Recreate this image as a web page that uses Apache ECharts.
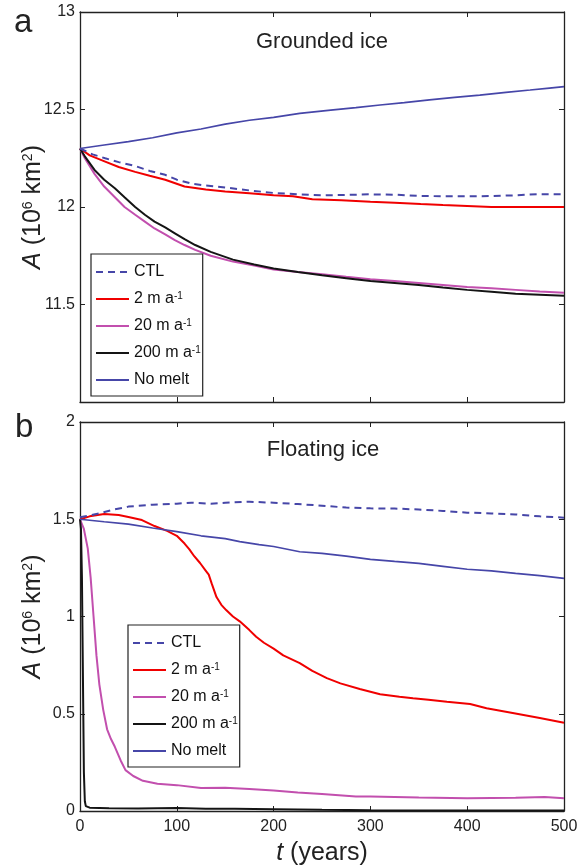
<!doctype html>
<html>
<head>
<meta charset="UTF-8">
<title>Grounded / floating ice area</title>
<script src="https://cdn.jsdelivr.net/npm/echarts@6/dist/echarts.min.js"></script>
<style>
  html, body { margin: 0; padding: 0; background: #fff; }
  #chart { width: 587px; height: 868px; }
</style>
</head>
<body>
<div id="chart"></div>
<script>
// --- data: [years, area (10^6 km^2)] ---
const seriesNames = ['CTL', '2 m a-1', '20 m a-1', '200 m a-1', 'No melt'];

// panel a: grounded ice
const ctlGrounded = [[0,12.3],[13,12.27],[26,12.25],[40,12.23],[57,12.21],[72,12.185],[88,12.165],[100,12.14],[115,12.12],[130,12.11],[150,12.1],[175,12.085],[200,12.072],[225,12.065],[250,12.06],[275,12.062],[300,12.065],[325,12.063],[350,12.057],[375,12.055],[400,12.055],[425,12.056],[450,12.06],[475,12.066],[500,12.065]];
const melt2Grounded = [[0,12.3],[10,12.265],[26,12.233],[40,12.205],[57,12.18],[72,12.16],[88,12.14],[108,12.105],[130,12.09],[150,12.08],[175,12.07],[200,12.06],[220,12.055],[240,12.04],[270,12.035],[300,12.027],[325,12.022],[352,12.015],[375,12.01],[400,12.005],[425,12.0],[448,12.0],[475,12.0],[500,12.0]];
const melt20Grounded = [[0,12.3],[5,12.25],[15,12.17],[25,12.105],[36,12.05],[46,12.0],[57,11.96],[67,11.925],[77,11.89],[88,11.86],[98,11.83],[108,11.805],[119,11.78],[135,11.75],[158,11.72],[180,11.7],[200,11.68],[225,11.667],[250,11.655],[275,11.642],[300,11.63],[325,11.62],[350,11.61],[375,11.6],[400,11.59],[425,11.583],[450,11.575],[475,11.567],[500,11.56]];
const melt200Grounded = [[0,12.3],[5,12.26],[15,12.19],[25,12.14],[36,12.096],[46,12.05],[57,12.0],[67,11.96],[77,11.925],[88,11.895],[98,11.865],[108,11.835],[119,11.805],[135,11.77],[158,11.73],[180,11.705],[200,11.685],[225,11.667],[250,11.65],[275,11.635],[300,11.62],[325,11.61],[350,11.6],[375,11.587],[400,11.575],[425,11.565],[450,11.555],[475,11.55],[500,11.545]];
const noMeltGrounded = [[0,12.3],[25,12.318],[50,12.335],[75,12.355],[100,12.38],[125,12.4],[150,12.425],[175,12.445],[200,12.46],[227,12.48],[259,12.497],[285,12.51],[310,12.523],[335,12.535],[361,12.549],[387,12.562],[413,12.574],[440,12.588],[465,12.6],[485,12.61],[500,12.617]];

// panel b: floating ice
const ctlFloating = [[0,1.51],[10,1.52],[20,1.53],[35,1.55],[50,1.565],[75,1.575],[100,1.58],[115,1.585],[135,1.58],[150,1.585],[175,1.59],[200,1.585],[225,1.578],[250,1.57],[275,1.56],[300,1.556],[325,1.555],[350,1.55],[375,1.543],[400,1.534],[425,1.53],[450,1.525],[475,1.515],[500,1.508]];
const melt2Floating = [[0,1.5],[10,1.515],[25,1.527],[40,1.522],[50,1.512],[64,1.496],[77,1.465],[90,1.44],[100,1.415],[108,1.375],[113,1.345],[118,1.31],[124,1.275],[130,1.235],[133,1.215],[136,1.17],[141,1.1],[146,1.06],[151,1.033],[158,1.0],[165,0.975],[175,0.93],[182,0.896],[190,0.865],[200,0.835],[210,0.8],[227,0.76],[240,0.72],[255,0.683],[269,0.656],[289,0.627],[310,0.6],[330,0.588],[344,0.58],[360,0.572],[379,0.562],[403,0.55],[420,0.528],[447,0.504],[475,0.478],[500,0.454]];
const melt20Floating = [[0,1.5],[4,1.45],[8,1.35],[11,1.2],[14,1.0],[17,0.8],[20,0.65],[24,0.52],[28,0.42],[32,0.37],[36,0.33],[42,0.26],[47,0.21],[55,0.18],[65,0.155],[80,0.14],[100,0.133],[125,0.118],[150,0.12],[175,0.113],[200,0.105],[225,0.095],[250,0.088],[285,0.074],[300,0.075],[350,0.07],[400,0.066],[450,0.068],[480,0.072],[500,0.066]];
const melt200Floating = [[0,1.5],[1,1.45],[2,1.2],[3,0.7],[4,0.2],[5,0.05],[6,0.025],[10,0.017],[30,0.014],[60,0.013],[100,0.015],[130,0.012],[160,0.011],[200,0.009],[250,0.006],[300,0.004],[400,0.003],[500,0.003]];
const noMeltFloating = [[0,1.5],[25,1.487],[50,1.475],[75,1.455],[100,1.436],[125,1.415],[150,1.4],[165,1.385],[185,1.37],[200,1.36],[227,1.333],[250,1.325],[275,1.31],[300,1.294],[325,1.283],[350,1.273],[375,1.258],[400,1.243],[425,1.235],[450,1.222],[475,1.21],[500,1.196]];

const FONT = '"Liberation Sans", Arial, sans-serif';
const INK = '#222';
const colors = ['#4646a8', '#f00000', '#c24fae', '#141414', '#4646a8'];
const widths = [2, 2, 2, 2, 1.7];

const chart = echarts.init(document.getElementById('chart'), null, { renderer: 'canvas' });

function mkX(gridIndex, pos, labels) {
  return {
    type: 'value', gridIndex, position: pos, min: 0, max: 500, interval: 100,
    axisLine: { show: true, onZero: false, lineStyle: { color: INK, width: 1.3 } },
    axisTick: { show: true, inside: true, length: 5, lineStyle: { color: INK } },
    splitLine: { show: false },
    axisLabel: { show: labels, margin: 8, fontSize: 16, color: INK, fontFamily: FONT },
    name: labels ? '{i|t} (years)' : '',
    nameLocation: 'middle', nameGap: 30, nameMoveOverlap: false,
    nameTextStyle: { fontSize: 25, color: INK, fontFamily: FONT,
      rich: { i: { fontStyle: 'italic', fontSize: 25, fontFamily: FONT, color: INK } } }
  };
}
function mkY(gridIndex, pos, min, max, labels) {
  return {
    type: 'value', gridIndex, position: pos, min, max, interval: 0.5,
    axisLine: { show: true, onZero: false, lineStyle: { color: INK, width: 1.3 } },
    axisTick: { show: true, inside: true, length: 5, lineStyle: { color: INK } },
    splitLine: { show: false },
    axisLabel: { show: labels, margin: 5, fontSize: 16, color: INK, fontFamily: FONT,
      formatter: v => (v === 11 ? '' : String(v)) },
    name: labels ? '{i|A} (10{s|6} km{s|2})' : '',
    nameLocation: 'middle', nameGap: 34, nameMoveOverlap: false,
    nameTextStyle: { fontSize: 25, color: INK, fontFamily: FONT,
      rich: { i: { fontStyle: 'italic', fontSize: 25, fontFamily: FONT, color: INK },
              s: { fontSize: 14, verticalAlign: 'top', fontFamily: FONT, color: INK } } }
  };
}
function mkLegend(left, top) {
  return {
    orient: 'vertical', left, top, data: seriesNames,
    itemWidth: 33, itemHeight: 14, itemGap: 11,
    padding: [10, 2, 8, 4],
    borderColor: INK, borderWidth: 1.2, backgroundColor: '#fff',
    selectedMode: false,
    itemStyle: { opacity: 0 },
    formatter: n => n.replace('a-1', 'a{s|-1}'),
    textStyle: { fontSize: 16, color: '#111', fontFamily: FONT,
      rich: { s: { fontSize: 10, verticalAlign: 'top', fontFamily: FONT, color: '#111' } } }
  };
}
function mkSeries(name, idx, data, axis) {
  return {
    name, type: 'line', data, xAxisIndex: axis, yAxisIndex: axis,
    symbol: 'none', showSymbol: false, smooth: false, z: idx === 0 ? 3 : 2,
    color: colors[idx],
    lineStyle: { color: colors[idx], width: widths[idx], type: idx === 0 ? [7, 5] : 'solid' }
  };
}

const groundedSets = [ctlGrounded, melt2Grounded, melt20Grounded, melt200Grounded, noMeltGrounded];
const floatingSets = [ctlFloating, melt2Floating, melt20Floating, melt200Floating, noMeltFloating];

chart.setOption({
  animation: false,
  backgroundColor: '#fff',
  textStyle: { fontFamily: FONT },
  grid: [
    { left: 80, top: 12, width: 484, height: 390 },
    { left: 80, top: 422, width: 484, height: 389 }
  ],
  xAxis: [mkX(0, 'bottom', false), mkX(0, 'top', false), mkX(1, 'bottom', true), mkX(1, 'top', false)],
  yAxis: [mkY(0, 'left', 11, 13, true), mkY(0, 'right', 11, 13, false), mkY(1, 'left', 0, 2, true), mkY(1, 'right', 0, 2, false)],
  legend: [mkLegend(91, 254), mkLegend(128, 625)],
  series: [
    ...groundedSets.map((d, i) => mkSeries(seriesNames[i], i, d, 0)),
    ...floatingSets.map((d, i) => mkSeries(seriesNames[i], i, d, 2))
  ],
  graphic: [
    { type: 'text', left: 14, top: 6, style: { text: 'a', fontSize: 33, fill: INK, fontFamily: FONT } },
    { type: 'text', left: 15, top: 411, style: { text: 'b', fontSize: 33, fill: INK, fontFamily: FONT } },
    { type: 'text', x: 322, y: 42, style: { text: 'Grounded ice', fontSize: 22, fill: INK, fontFamily: FONT, align: 'center', verticalAlign: 'middle' } },
    { type: 'text', x: 323, y: 450, style: { text: 'Floating ice', fontSize: 22, fill: INK, fontFamily: FONT, align: 'center', verticalAlign: 'middle' } }
  ]
});
</script>
</body>
</html>
